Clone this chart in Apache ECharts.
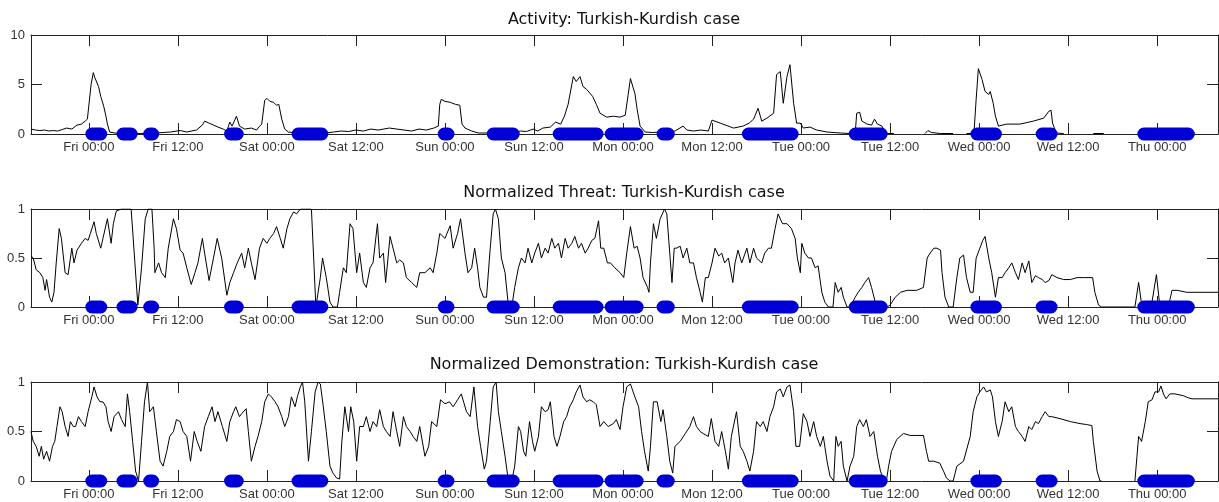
<!DOCTYPE html>
<html>
<head>
<meta charset="utf-8">
<title>Turkish-Kurdish case</title>
<script src="https://cdn.jsdelivr.net/npm/echarts@6/dist/echarts.min.js"></script>
<style>
  html, body { margin: 0; padding: 0; background: #fff; }
  #chart { width: 1219px; height: 502px; }
</style>
</head>
<body>
<div id="chart"></div>
<script>
  // time is in hours counted from Fri 00:00
  var tickHours = [0, 12, 24, 36, 48, 60, 72, 84, 96, 108, 120, 132, 144];
  var tickLabels = ['Fri 00:00', 'Fri 12:00', 'Sat 00:00', 'Sat 12:00', 'Sun 00:00', 'Sun 12:00',
    'Mon 00:00', 'Mon 12:00', 'Tue 00:00', 'Tue 12:00', 'Wed 00:00', 'Wed 12:00', 'Thu 00:00'];

  // blue event marks on the zero line [start, end]
  var eventSpans = [[0.4, 1.6], [4.6, 5.7], [8.2, 8.6], [19.1, 20.0], [28.2, 31.4], [47.9, 48.4],
    [54.5, 57.2], [63.4, 68.5], [70.4, 73.9], [77.4, 78.1], [88.9, 94.8], [103.3, 106.8],
    [119.7, 122.2], [128.5, 129.7], [142.2, 148.2]];

  var activity = [
    [-7.8,0.5],[-7.2,0.4],[-6.6,0.35],[-6.0,0.4],[-5.4,0.3],[-4.8,0.35],[-4.2,0.3],[-3.6,0.45],[-3.0,0.6],
    [-2.3,0.5],[-1.6,0.9],[-1.0,1.0],[-0.5,1.3],[-0.2,1.5],[0.3,5.0],[0.6,6.2],[0.8,5.7],[1.0,5.6],[1.3,4.8],
    [1.6,3.8],[2.0,2.8],[2.3,1.8],[2.5,1.0],[2.8,0.2],[3.5,0.1],[5.0,0.05],[7.0,0.05],[9.0,0.1],[11.0,0.2],
    [12.3,0.35],[13.2,0.2],[14.5,0.4],[15.3,0.9],[15.6,1.3],[16.2,1.1],[16.8,0.9],[17.4,0.7],[18.1,0.5],
    [18.6,0.3],[19.0,1.2],[19.3,0.8],[19.5,0.7],[19.9,1.8],[20.3,0.8],[21.0,0.5],[21.9,0.6],[22.6,0.4],
    [22.9,0.7],[23.3,1.0],[23.7,3.4],[24.0,3.6],[24.4,3.3],[24.9,3.2],[25.3,2.9],[25.6,3.0],[26.0,1.5],
    [26.4,0.5],[26.9,0.2],[28,0.1],[30,0.05],[32,0.1],[33,0.2],[34,0.3],[35,0.25],[36,0.4],[37,0.3],
    [38,0.5],[39,0.4],[40.5,0.6],[41.5,0.5],
    [42.5,0.4],[43.5,0.3],[44.5,0.5],[45.5,0.4],[46.5,0.6],[47.1,0.8],[47.3,3.0],[47.5,3.5],[48.0,3.3],
    [48.7,3.2],[49.4,3.0],[50.0,2.9],[50.3,1.0],[50.7,0.6],[51.6,0.3],[52.5,0.1],[54,0.1],[56,0.15],
    [57.5,0.2],[58.2,0.3],[59,0.25],[59.9,0.5],[60.5,0.3],[61.2,0.6],[62.2,0.7],[62.9,1.2],[63.6,1.0],
    [64.1,1.8],[64.6,3.0],[65.3,5.8],[65.7,5.3],[66.2,5.8],[66.6,4.8],[67.1,4.5],[67.9,3.8],[68.4,3.0],
    [68.9,2.1],[69.8,1.7],[70.7,1.8],[71.6,1.7],[72.3,1.9],[72.7,4.0],[73.0,5.6],[73.6,4.1],[73.9,2.5],
    [74.3,0.8],[75.0,0.2],[76,0.15],[77,0.2],[78,0.15],[79,0.3],[80.1,0.8],[80.6,0.4],[81.5,0.3],
    [82.5,0.4],[83.5,0.3],[84.0,1.4],[85.1,1.1],[86.9,0.6],[88.2,0.8],[89.0,1.1],[89.6,1.5],[90.2,2.6],
    [90.7,1.3],[91.4,1.6],[92.3,2.1],[92.7,6.0],[93.2,6.3],[93.6,3.1],[94.1,5.8],[94.5,7.0],[95.0,3.1],
    [95.4,1.1],[95.9,1.1],[96.3,0.6],[97.2,0.7],[98.1,0.4],[99.5,0.2],[101.3,0.1],[102.6,0.05],[103.3,0.1],
    [103.5,2.1],[103.9,2.2],[104.2,1.3],[104.9,1.0],[105.5,0.9],[105.9,1.5],[106.3,1.0],[106.9,0.8],
    [107.3,0.2],[107.6,0.05],[108.5,0.05],[108.5,null],
    [112.7,0.05],[113.1,0.35],[113.6,0.15],[114.8,0.05],[116.5,0.05],[116.5,null],
    [118.3,0.05],[119.3,0.05],[119.6,3.5],[119.9,6.6],[120.4,5.5],[120.8,4.3],[121.3,4.0],[121.5,4.3],
    [121.9,3.1],[122.2,1.8],[122.6,0.8],[123.7,1.0],[125.5,1.0],[127.3,1.3],[128.7,1.6],[129.4,2.3],
    [129.7,2.4],[129.9,1.1],[130.4,0.1],[131.4,0.05],[131.4,null],
    [135.4,0.05],[136.8,0.05]
  ];

  var threat = [
    [-7.8,0.52],[-7.5,0.5],[-7.1,0.38],[-6.6,0.35],[-6.2,0.3],[-5.9,0.17],[-5.7,0.28],[-5.3,0.1],[-5.0,0.05],
    [-4.7,0.15],[-4.4,0.45],[-4.0,0.8],[-3.7,0.7],[-3.2,0.35],[-2.8,0.33],[-2.3,0.6],[-2.0,0.45],[-1.6,0.58],
    [-1.0,0.65],[-0.5,0.7],[-0.1,0.68],[0.2,0.75],[0.7,0.87],[1.0,0.75],[1.6,0.6],[1.9,0.7],[2.5,0.9],
    [3.0,0.65],[3.3,0.85],[3.7,0.98],[4.4,1.0],[5.1,1.0],[5.7,1.0],[6.6,0.02],[7.1,0.4],[7.6,0.9],[8.0,1.0],
    [8.5,1.0],[8.8,0.6],[8.9,0.35],[9.4,0.45],[9.8,0.35],[10.3,0.3],[10.7,0.6],[11.4,0.9],[11.8,0.8],
    [12.3,0.58],[12.7,0.55],[13.2,0.4],[13.8,0.23],[14.3,0.35],[14.7,0.45],[15.3,0.7],[15.6,0.55],
    [16.2,0.27],[16.8,0.5],[17.3,0.7],[17.9,0.5],[18.6,0.12],[19.0,0.25],[19.5,0.35],[20.0,0.45],
    [20.6,0.55],[21.0,0.4],[21.5,0.6],[21.9,0.45],[22.4,0.28],[23.0,0.6],[23.5,0.7],[24.0,0.65],[24.4,0.7],
    [24.9,0.75],[25.3,0.82],[25.8,0.7],[26.2,0.6],[26.7,0.8],[27.1,0.9],[27.6,0.97],[28.0,0.95],[28.5,1.0],
    [30.0,1.0],[30.1,1.0],[30.6,0.0],[31.2,0.3],[31.5,0.5],[32.0,0.3],[32.5,0.05],[32.9,0.0],[33.5,0.0],
    [33.8,0.15],[34.3,0.4],[34.7,0.35],[35.2,0.85],[35.6,0.8],[36.1,0.35],[36.5,0.55],[37.0,0.25],
    [37.4,0.2],[37.9,0.4],[38.3,0.45],[38.9,0.85],[39.2,0.5],[39.7,0.55],[40.0,0.25],[40.6,0.72],[41.0,0.6],
    [41.5,0.45],[41.9,0.48],
    [42.4,0.45],[42.8,0.3],[43.5,0.25],[44.2,0.2],[44.6,0.35],[45.3,0.35],[46.0,0.4],[46.4,0.35],
    [46.9,0.55],[47.3,0.75],[48.0,0.7],[48.7,0.83],[49.1,0.6],[49.7,0.75],[50.1,0.9],[50.7,0.55],
    [51.1,0.35],[51.6,0.4],[52.0,0.6],[52.4,0.4],[52.7,0.2],[53.2,0.1],[53.6,0.1],[54.1,0.6],[54.5,0.95],
    [54.8,1.0],[55.2,0.9],[55.6,0.5],[56.1,0.35],[56.5,0.05],[57.0,0.0],[57.4,0.2],[57.9,0.4],[58.3,0.5],
    [58.8,0.45],[59.2,0.6],[59.7,0.45],[60.1,0.55],[60.6,0.65],[61.0,0.5],[61.5,0.6],[61.9,0.55],
    [62.4,0.7],[62.8,0.6],[63.3,0.65],[63.7,0.5],[64.2,0.7],[64.6,0.6],[65.1,0.65],[65.5,0.72],[66.0,0.6],
    [66.4,0.65],[66.9,0.55],[67.3,0.6],[67.8,0.68],[68.2,0.7],[68.7,0.88],[69.0,0.6],[69.4,0.6],
    [69.9,0.45],[70.3,0.45],[70.9,0.4],[71.6,0.35],[72.1,0.3],[72.5,0.55],[73.0,0.82],[73.5,0.6],
    [73.9,0.62],[74.3,0.5],[74.7,0.3],[75.3,0.2],[75.5,0.15],[75.7,0.45],[76.1,0.85],[76.5,0.7],[77.0,0.9],
    [77.6,1.0],[77.9,0.95],[78.3,0.55],[78.6,0.25],[78.9,0.6],[79.2,0.6],[79.7,0.62],[80.1,0.5],[80.6,0.6],
    [81.0,0.45],[81.5,0.45],[81.9,0.3],[82.4,0.15],[82.7,0.05],[83.1,0.3],[83.5,0.3],[84.0,0.45],
    [84.4,0.6],[84.9,0.52],[85.3,0.55],[85.7,0.45],[86.2,0.5],[86.8,0.25],[87.1,0.45],[87.5,0.58],
    [88.0,0.45],[88.7,0.6],[89.1,0.45],[89.6,0.6],[90.0,0.5],[90.7,0.45],[91.1,0.55],[91.6,0.6],[92.0,0.6],
    [92.5,0.8],[92.9,0.95],[93.5,0.85],[94.1,0.85],[94.7,0.8],[95.2,0.7],[95.5,0.5],[95.9,0.35],
    [96.1,0.65],[96.5,0.55],[97.0,0.5],[97.4,0.5],[97.9,0.4],[98.3,0.42],[98.8,0.15],[99.2,0.05],
    [99.7,0.0],[100.3,0.0],[100.6,0.25],[101.0,0.15],[101.4,0.2],[101.7,0.1],[102.2,0.0],[102.6,0.0],
    [103.3,0.1],[103.7,0.15],[104.2,0.2],[104.6,0.25],[105.1,0.3],[105.5,0.2],[106.0,0.05],[106.4,0.0],
    [107.6,0.0],[108.0,0.02],[108.7,0.1],[109.4,0.15],[110.3,0.17],[111.6,0.17],[112.5,0.2],[113.0,0.5],
    [113.4,0.55],[113.9,0.6],[114.3,0.6],[114.8,0.58],[115.0,0.35],[115.4,0.1],[115.9,0.0],[116.5,0.0],
    [117.0,0.3],[117.4,0.5],[117.9,0.53],[118.3,0.3],[118.8,0.15],[119.2,0.15],[119.6,0.5],[120.1,0.6],
    [120.5,0.68],[120.8,0.72],[121.3,0.5],[121.7,0.35],[122.2,0.1],[122.6,0.3],[123.1,0.3],[123.5,0.35],
    [124.0,0.4],[124.4,0.45],[124.9,0.35],[125.3,0.28],[125.8,0.45],[126.2,0.35],[126.7,0.47],[127.1,0.25],
    [127.6,0.32],[128.0,0.3],[128.5,0.28],[128.9,0.25],[129.4,0.27],[129.8,0.33],[130.5,0.3],[131.4,0.28],
    [132.3,0.28],[133.2,0.3],[134.1,0.3],[135.3,0.3],[135.6,0.15],[136.1,0.02],[136.5,0.0],[141.0,0.0],
    [141.5,0.25],[141.9,0.03],[142.6,0.0],[143.3,0.05],[143.9,0.33],[144.3,0.05],[144.9,0.0],[145.5,0.0],
    [146.0,0.17],[146.7,0.17],[148.0,0.15],[152.2,0.15]
  ];

  var demonstration = [
    [-7.8,0.5],[-7.5,0.4],[-7.1,0.35],[-6.7,0.25],[-6.4,0.35],[-6.1,0.22],[-5.7,0.3],[-5.3,0.2],[-4.9,0.35],
    [-4.6,0.4],[-4.3,0.55],[-3.9,0.75],[-3.6,0.7],[-3.2,0.55],[-2.8,0.45],[-2.5,0.6],[-2.1,0.55],
    [-1.8,0.55],[-1.4,0.65],[-1.0,0.6],[-0.5,0.55],[-0.1,0.7],[0.4,0.85],[0.7,0.95],[1.1,0.85],[1.5,0.8],
    [1.9,0.8],[2.3,0.75],[2.6,0.6],[3.0,0.5],[3.4,0.65],[4.0,0.7],[4.4,0.62],[4.9,0.55],[5.2,0.88],
    [5.5,0.7],[5.9,0.4],[6.3,0.1],[6.7,0.0],[7.1,0.4],[7.5,0.8],[7.9,1.0],[8.2,0.7],[8.7,0.75],[9.1,0.5],
    [9.6,0.2],[10.0,0.15],[10.5,0.3],[10.9,0.45],[11.4,0.5],[11.8,0.62],[12.3,0.6],[12.7,0.5],[13.2,0.45],
    [13.7,0.2],[14.2,0.5],[14.6,0.4],[15.1,0.3],[15.6,0.55],[16.1,0.65],[16.6,0.75],[17.0,0.6],[17.4,0.7],
    [18.0,0.55],[18.6,0.4],[19.0,0.6],[19.5,0.7],[19.8,0.75],[20.3,0.65],[20.6,0.68],[21.2,0.73],[21.5,0.5],
    [21.9,0.2],[22.4,0.35],[22.8,0.45],[23.3,0.6],[23.7,0.8],[24.2,0.88],[24.6,0.85],[25.1,0.8],[25.5,0.75],
    [26.0,0.65],[26.4,0.55],[26.9,0.65],[27.3,0.85],[27.8,0.75],[28.1,0.85],[28.5,0.95],[28.8,1.0],
    [29.1,0.8],[29.6,0.2],[30.0,0.5],[30.5,0.9],[30.9,1.0],[31.2,0.98],[31.6,0.75],[32.0,0.5],[32.5,0.15],
    [32.9,0.08],[33.4,0.03],[33.8,0.02],[34.1,0.4],[34.5,0.75],[35.0,0.5],[35.3,0.75],[35.7,0.6],[36.1,0.2],
    [36.5,0.55],[37.0,0.55],[37.4,0.65],[37.9,0.5],[38.3,0.6],[38.8,0.55],[39.2,0.72],[39.7,0.55],
    [40.1,0.5],[40.6,0.45],[41.0,0.7],[41.5,0.5],[41.9,0.35],
    [42.4,0.65],[42.8,0.55],[43.3,0.5],[43.7,0.45],[44.2,0.4],[44.6,0.55],[45.3,0.25],[45.8,0.35],
    [46.2,0.6],[46.9,0.55],[47.4,0.82],[48.0,0.78],[48.6,0.8],[49.1,0.75],[49.7,0.82],[50.2,0.88],
    [50.9,0.7],[51.4,0.65],[51.9,0.95],[52.4,0.55],[52.8,0.35],[53.3,0.12],[53.6,0.2],[54.1,0.6],
    [54.5,0.95],[54.9,1.0],[55.2,0.7],[55.6,0.5],[56.1,0.25],[56.5,0.03],[57.0,0.0],[57.4,0.15],[57.9,0.55],
    [58.2,0.5],[58.6,0.3],[58.9,0.25],[59.4,0.6],[59.8,0.4],[60.1,0.3],[60.6,0.45],[61.0,0.75],[61.5,0.7],
    [61.9,0.72],[62.2,0.8],[62.7,0.45],[63.1,0.35],[63.5,0.45],[64.0,0.6],[64.4,0.65],[64.8,0.75],
    [65.3,0.82],[65.7,0.9],[66.2,0.97],[66.6,0.85],[67.1,0.8],[67.5,0.82],[68.0,0.8],[68.4,0.77],
    [68.9,0.55],[69.4,0.6],[70.0,0.55],[70.7,0.58],[71.1,0.62],[71.6,0.52],[72.0,0.75],[72.5,0.95],
    [73.0,0.98],[73.6,0.85],[74.1,0.75],[74.5,0.5],[74.9,0.3],[75.4,0.1],[75.7,0.35],[76.1,0.8],[76.6,0.8],
    [77.1,0.6],[77.4,0.72],[77.9,0.45],[78.3,0.2],[78.7,0.08],[79.0,0.35],[79.7,0.4],[80.4,0.48],[81.0,0.55],
    [81.5,0.65],[81.9,0.55],[82.4,0.5],[82.8,0.48],[83.5,0.45],[83.9,0.63],[84.4,0.4],[84.9,0.35],
    [85.3,0.5],[85.8,0.3],[86.2,0.12],[86.6,0.45],[87.3,0.7],[87.8,0.35],[88.2,0.3],[88.7,0.2],[89.1,0.1],
    [89.6,0.3],[90.0,0.6],[90.5,0.55],[90.9,0.6],[91.4,0.5],[91.8,0.65],[92.3,0.75],[92.7,0.9],[93.2,0.93],
    [93.6,0.85],[94.1,0.95],[94.5,0.97],[95.0,0.7],[95.3,0.35],[95.8,0.35],[96.3,0.68],[96.8,0.6],
    [97.2,0.45],[97.7,0.6],[98.1,0.45],[98.6,0.35],[99.0,0.45],[99.5,0.2],[99.9,0.05],[100.4,0.0],
    [100.7,0.45],[101.0,0.35],[101.4,0.4],[101.7,0.15],[102.2,0.0],[102.6,0.15],[103.1,0.25],[103.5,0.55],
    [103.9,0.62],[104.4,0.55],[104.8,0.62],[105.3,0.45],[105.8,0.5],[106.3,0.25],[106.7,0.1],[107.1,0.02],
    [107.5,0.0],[107.8,0.15],[108.2,0.3],[108.9,0.42],[109.8,0.48],[110.7,0.46],[111.6,0.46],[112.5,0.46],
    [112.9,0.3],[113.2,0.2],[113.9,0.2],[114.7,0.18],[115.2,0.1],[115.6,0.03],[116.1,0.0],[116.5,0.0],
    [117.0,0.15],[117.9,0.2],[118.8,0.45],[119.2,0.7],[119.7,0.85],[120.1,0.9],[120.6,0.95],[121.0,0.9],
    [121.5,0.92],[121.8,0.85],[122.2,0.6],[122.6,0.45],[123.1,0.6],[123.5,0.8],[124.0,0.7],[124.4,0.75],
    [124.9,0.55],[125.3,0.5],[125.8,0.45],[126.2,0.4],[126.7,0.55],[127.1,0.52],[127.6,0.6],[128.0,0.58],
    [128.5,0.65],[128.9,0.7],[129.4,0.65],[129.8,0.65],[130.9,0.63],[132.3,0.6],[133.6,0.58],[134.5,0.57],
    [135.2,0.56],[135.4,0.4],[135.9,0.1],[136.3,0.0],[136.5,0.0],[136.5,null],
    [141.0,0.0],[141.5,0.45],[141.9,0.4],[142.4,0.6],[142.8,0.8],[143.3,0.82],[143.7,0.9],[144.2,0.9],
    [144.5,0.96],[144.9,0.87],[145.2,0.83],[145.7,0.88],[146.4,0.88],[147.6,0.86],[148.2,0.84],[148.7,0.83],
    [152.2,0.83]
  ];

  var panelTitles = ['Activity: Turkish-Kurdish case', 'Normalized Threat: Turkish-Kurdish case',
    'Normalized Demonstration: Turkish-Kurdish case'];
  var panelSeries = [activity, threat, demonstration];
  var yMaxes = [10, 1, 1];
  var ySteps = [5, 0.5, 0.5];

  var xMin = -7.8;
  var xMax = 152.2;
  var gridTops = [35, 209, 382];
  var gridHeights = [99, 98, 99];
  var titleTops = [12, 185, 357];
  var axisColor = '#222';
  var labelStyle = { color: '#333', fontFamily: 'Liberation Sans, Arial, sans-serif', fontSize: 13 };

  var eventLine = [];
  eventSpans.forEach(function (s) {
    eventLine.push([s[0], 0], [s[1], 0], [s[1], null]);
  });

  var chart = echarts.init(document.getElementById('chart'), null, { renderer: 'canvas' });

  var titles = [], grids = [], xAxes = [], yAxes = [], series = [];
  for (var i = 0; i < 3; i++) {
    titles.push({
      text: panelTitles[i],
      left: 624, top: titleTops[i], textAlign: 'center', padding: 0,
      textStyle: { fontFamily: 'DejaVu Sans', fontSize: 16, fontWeight: 'normal', color: '#111', lineHeight: 16 }
    });
    grids.push({ left: 31, right: 1, top: gridTops[i], height: gridHeights[i], containLabel: false });

    ['bottom', 'top'].forEach(function (pos) {
      xAxes.push({
        gridIndex: i, type: 'value', position: pos, min: xMin, max: xMax,
        axisLine: { show: true, onZero: false, lineStyle: { color: axisColor, width: 1 } },
        axisTick: { show: true, inside: true, length: 11, customValues: tickHours, lineStyle: { color: axisColor } },
        axisLabel: {
          show: pos === 'bottom', customValues: tickHours, margin: 7,
          color: labelStyle.color, fontFamily: labelStyle.fontFamily, fontSize: labelStyle.fontSize,
          formatter: function (v) { return tickLabels[tickHours.indexOf(v)]; }
        },
        splitLine: { show: false }
      });
    });
    ['left', 'right'].forEach(function (pos) {
      yAxes.push({
        gridIndex: i, type: 'value', position: pos, min: 0, max: yMaxes[i], interval: ySteps[i],
        axisLine: { show: true, onZero: false, lineStyle: { color: axisColor, width: 1 } },
        axisTick: { show: true, inside: true, length: 11, lineStyle: { color: axisColor } },
        axisLabel: {
          show: pos === 'left', margin: 6,
          color: labelStyle.color, fontFamily: labelStyle.fontFamily, fontSize: labelStyle.fontSize
        },
        splitLine: { show: false }
      });
    });

    series.push({
      type: 'line', xAxisIndex: 2 * i, yAxisIndex: 2 * i,
      data: panelSeries[i], showSymbol: false, symbol: 'none',
      lineStyle: { color: '#000', width: 1 }, z: 2
    });
    series.push({
      type: 'line', xAxisIndex: 2 * i, yAxisIndex: 2 * i,
      data: eventLine, showSymbol: false, symbol: 'none', clip: false,
      lineStyle: { color: '#0000d6', width: 13, cap: 'round', join: 'round' }, z: 3
    });
  }

  chart.setOption({
    animation: false,
    backgroundColor: '#fff',
    title: titles,
    grid: grids,
    xAxis: xAxes,
    yAxis: yAxes,
    series: series
  });
</script>
</body>
</html>
